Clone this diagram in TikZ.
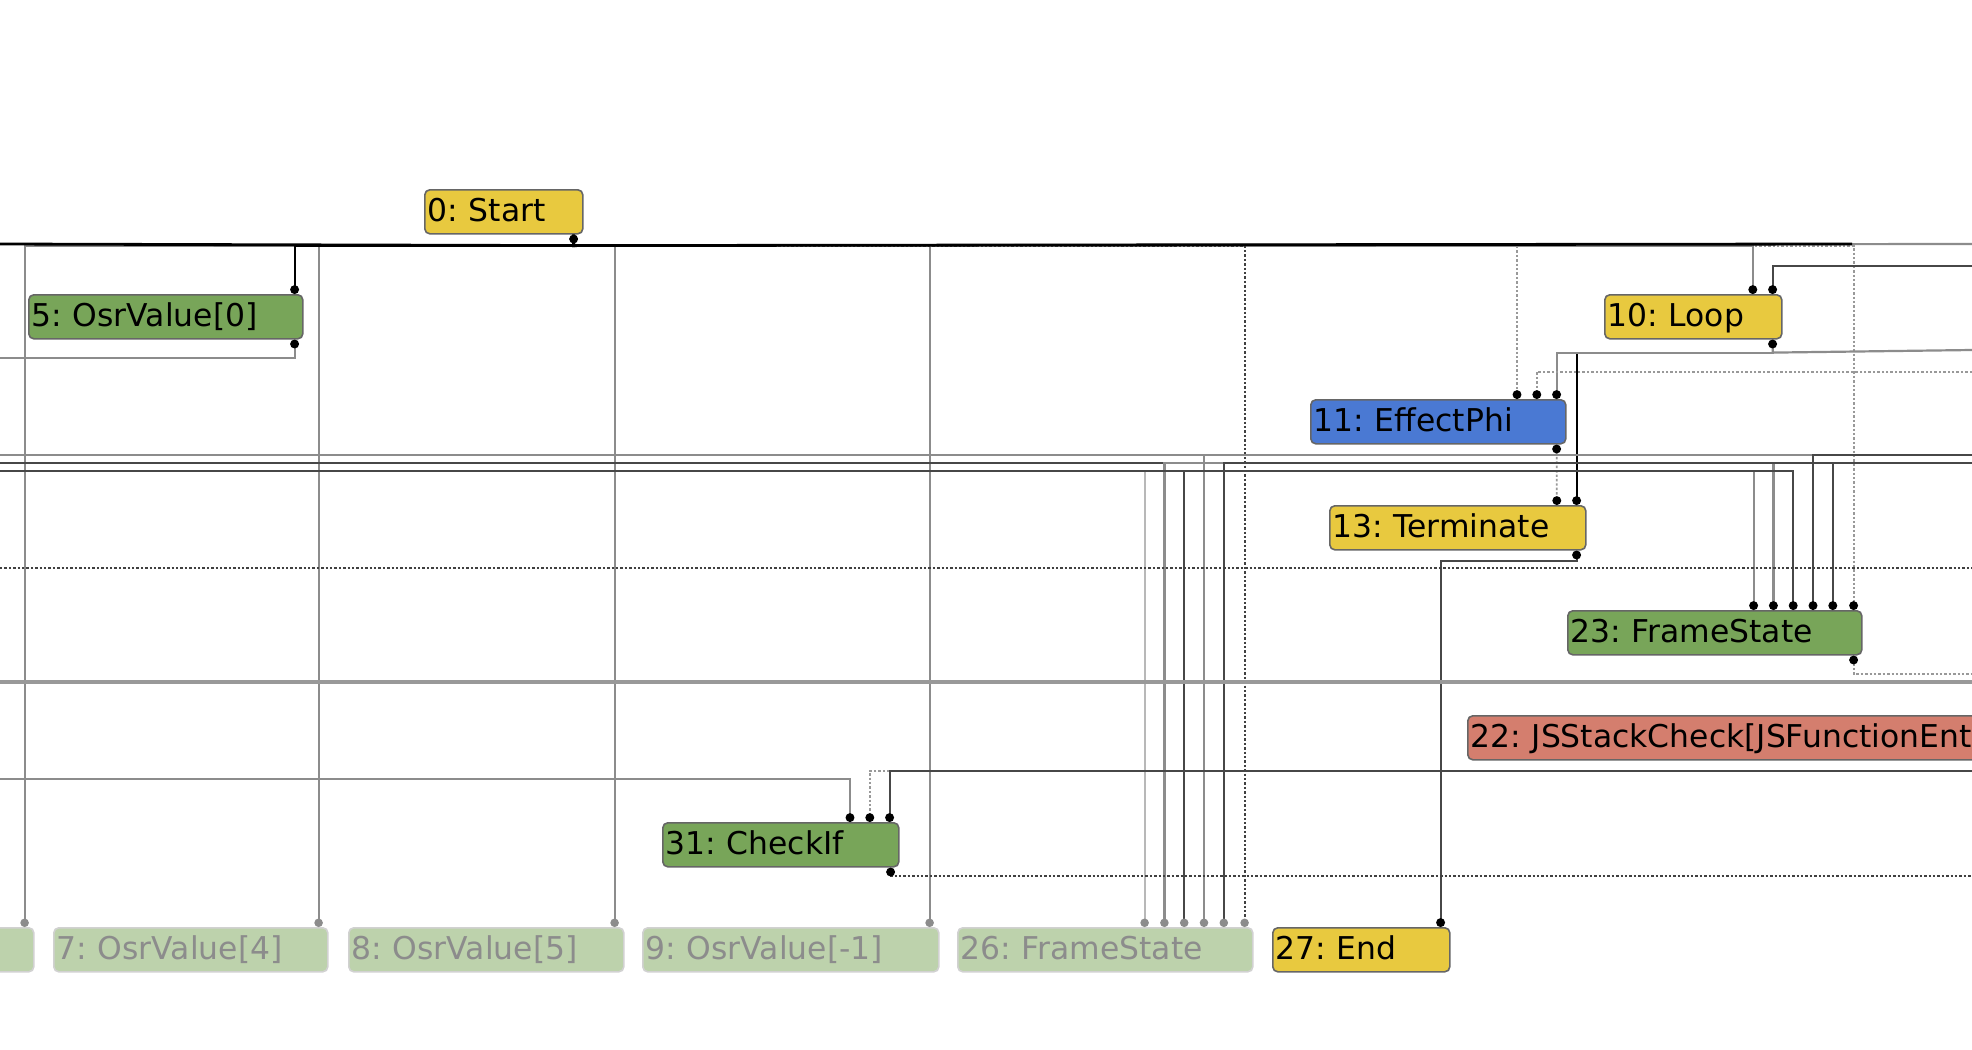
\documentclass[tikz,border=0pt]{standalone}
\usepackage{fontspec}
\setmainfont{DejaVu Sans}
\usetikzlibrary{arrows.meta}
\definecolor{CtrlYellow}{HTML}{E8C93F}
\definecolor{ValGreen}{HTML}{78A559}
\definecolor{PhiBlue}{HTML}{4A79D3}
\definecolor{JsRed}{HTML}{D47E6E}
\definecolor{DeadGreen}{HTML}{BDD2AC}
\newcommand\gfont{\fontsize{15.7}{18}\selectfont\frenchspacing}

\begin{document}
\begin{tikzpicture}[x=0.5pt,y=-0.5pt,
 gnode/.style={rectangle,rounded corners=2.5pt,draw=black!60,line width=0.8pt,anchor=north west,
 minimum height=22pt,inner xsep=1.5pt,inner ysep=0pt,text height=11.6pt,text depth=2pt,align=left,font=\gfont},
 ctrln/.style={gnode,fill=CtrlYellow},
 valn/.style={gnode,fill=ValGreen},
 phin/.style={gnode,fill=PhiBlue},
 jsn/.style={gnode,fill=JsRed},
 deadn/.style={gnode,fill=DeadGreen,draw=black!18,text=black!45},
 ctl/.style={draw=black,line width=0.9pt},
 bus/.style={draw=black,line width=1.4pt},
 dk/.style={draw=black!72,line width=1.1pt},
 val/.style={draw=black!45,line width=1.1pt},
 lt/.style={draw=black!28,line width=1.1pt},
 fx/.style={draw=black!75,line width=0.9pt,dash pattern=on 1.2pt off 1pt},
 fxl/.style={draw=black!40,line width=0.9pt,dash pattern=on 1.2pt off 1pt},
 portin/.style={-{Circle[length=4.4pt,color=black,fill=black]}},
 portout/.style={{Circle[length=4.4pt,color=black,fill=black]}-},
 portio/.style={{Circle[length=4.4pt,color=black,fill=black]}-{Circle[length=4.4pt,color=black,fill=black]}},
 portgray/.style={-{Circle[length=4.2pt,color=black!45,fill=black!45]}}]
\useasboundingbox (0,0) rectangle (1972,1050);
\clip (0,0) rectangle (1972,1050);
\fill[white] (0,0) rectangle (1972,1050);

% nodes, one row per rank
\node[ctrln,text width=76pt] (start) at (424,189) {0: Start};
\node[valn,text width=134pt] (osr0) at (28,294) {5: OsrValue[0]};
\node[ctrln,text width=85.5pt] (loop) at (1604,294) {10: Loop};
\node[phin,text width=124.5pt] (phi) at (1310,399) {11: EffectPhi};
\node[ctrln,text width=125pt] (term) at (1329,505) {13: Terminate};
\node[valn,text width=144pt] (fs23) at (1567,610) {23: FrameState};
\node[jsn,text width=360pt] (jsc) at (1467,715) {22: JSStackCheck[JSFunctionEntry]};
\node[valn,text width=115pt] (chk) at (662,822) {31: CheckIf};
\node[deadn,text width=134.5pt] (n6) at (-242,927) {};
\node[deadn,text width=134pt] (osr4) at (53,927) {7: OsrValue[4]};
\node[deadn,text width=134.5pt] (osr5) at (348,927) {8: OsrValue[5]};
\node[deadn,text width=145pt] (osrm1) at (642,927) {9: OsrValue[-1]};
\node[deadn,text width=144.5pt] (fs26) at (957,927) {26: FrameState};
\node[ctrln,text width=85.5pt] (end) at (1272,927) {27: End};

% free ends at the picture edges
\coordinate (topL) at (0,244);
\coordinate (topM) at (1852,244);
\coordinate (topR) at (1972,244);
\coordinate (osrL) at (0,358);
\coordinate (loopR) at (1972,266);
\coordinate (lpR) at (1972,350);
\coordinate (phiR) at (1972,372);
\coordinate (aL) at (0,455);
\coordinate (aR) at (1972,455);
\coordinate (bL) at (0,463);
\coordinate (bR) at (1972,463);
\coordinate (cL) at (0,471);
\coordinate (dL) at (0,568);
\coordinate (dR) at (1972,568);
\coordinate (fsR) at (1972,674);
\coordinate (gL) at (0,682);
\coordinate (gR) at (1972,682);
\coordinate (kR) at (1972,771);
\coordinate (kL) at (0,779);
\coordinate (ckR) at (1972,876);

% start bus
\draw[val] ([xshift=-5pt]start.south east) -- ++(0,11) -- (topR);
\draw[fxl,portin] ([xshift=-5pt]start.south east) -- ++(0,11) -| ([xshift=-4.5pt]fs23.north east);
\draw[fxl,portin] ([xshift=-5pt]start.south east) -- ++(0,11) -| ([xshift=-24.8pt]phi.north east);
\draw[val,portin] ([xshift=-5pt]start.south east) -- ++(0,11) -| ([xshift=-14.9pt]loop.north east);
\foreach \n in {n6,osr4,osr5,osrm1}
 \draw[val,portgray] ([xshift=-5pt]start.south east) -- ++(0,11) -| ([xshift=-5pt]\n.north east);
\draw[fx,portgray] ([xshift=-5pt]start.south east) -- ++(0,11) -| ([xshift=-4.5pt]fs26.north east);
\draw[bus] ([xshift=-5pt]start.south east) -- ++(0,11) -- (topL);
\draw[bus] ([xshift=-5pt]start.south east) -- ++(0,11) -- (topM);
\draw[ctl,portio] ([xshift=-5pt]start.south east) -- ++(0,11) -| ([xshift=-4.5pt]osr0.north east);
\draw[val,portout] ([xshift=-4.5pt]osr0.south east) |- (osrL);

% loop, effect phi, terminate
\draw[dk,portin] (loopR) -| ([xshift=-5pt]loop.north east);
\draw[val] ([xshift=-5pt]loop.south east) -- ++(0,13) -- (lpR);
\draw[ctl,portin] ([xshift=-5pt]loop.south east) -- ++(0,13) -| ([xshift=-5pt]term.north east);
\draw[val,portio] ([xshift=-5pt]loop.south east) -- ++(0,13) -| ([xshift=-5pt]phi.north east);
\draw[fxl,portin] (phiR) -| ([xshift=-14.9pt]phi.north east);
\draw[fxl,portio] ([xshift=-5pt]phi.south east) -- ([xshift=-14.9pt]term.north east);
\draw[dk,portio] ([xshift=-5pt]term.south east) -- ++(0,10) -| ([xshift=-5pt]end.north east);

% frame state inputs
\draw[val] (aL) -- (aR);
\draw[dk] (bL) -- (bR);
\draw[lt,portgray] (cL) -| ([xshift=-54.5pt]fs26.north east);
\draw[val,portin] (cL) -| ([xshift=-54.5pt]fs23.north east);
\draw[val,portgray] (bR) -| ([xshift=-44.6pt]fs26.north east);
\draw[val,portin] (bR) -| ([xshift=-44.6pt]fs23.north east);
\draw[val,portgray] (aR) -| ([xshift=-24.8pt]fs26.north east);
\draw[dk,portgray] (cL) -| ([xshift=-34.7pt]fs26.north east);
\draw[dk,portin] (cL) -| ([xshift=-34.7pt]fs23.north east);
\draw[dk,portin] (aR) -| ([xshift=-24.8pt]fs23.north east);
\draw[dk,portgray] (bR) -| ([xshift=-14.9pt]fs26.north east);
\draw[dk,portin] (bR) -| ([xshift=-14.9pt]fs23.north east);

\draw[fx] (dL) -- (dR);
\draw[fxl,portout] ([xshift=-4.5pt]fs23.south east) |- (fsR);
\draw[draw=black!40,line width=1.7pt] (gL) -- (gR);

% check
\draw[val,portin] (kL) -| ([xshift=-24.8pt]chk.north east);
\draw[fxl,portin] (kR) -| ([xshift=-14.9pt]chk.north east);
\draw[dk,portin] (kR) -| ([xshift=-5pt]chk.north east);
\draw[fx,portout] ([xshift=-4.5pt]chk.south east) |- (ckR);
\end{tikzpicture}
\end{document}
